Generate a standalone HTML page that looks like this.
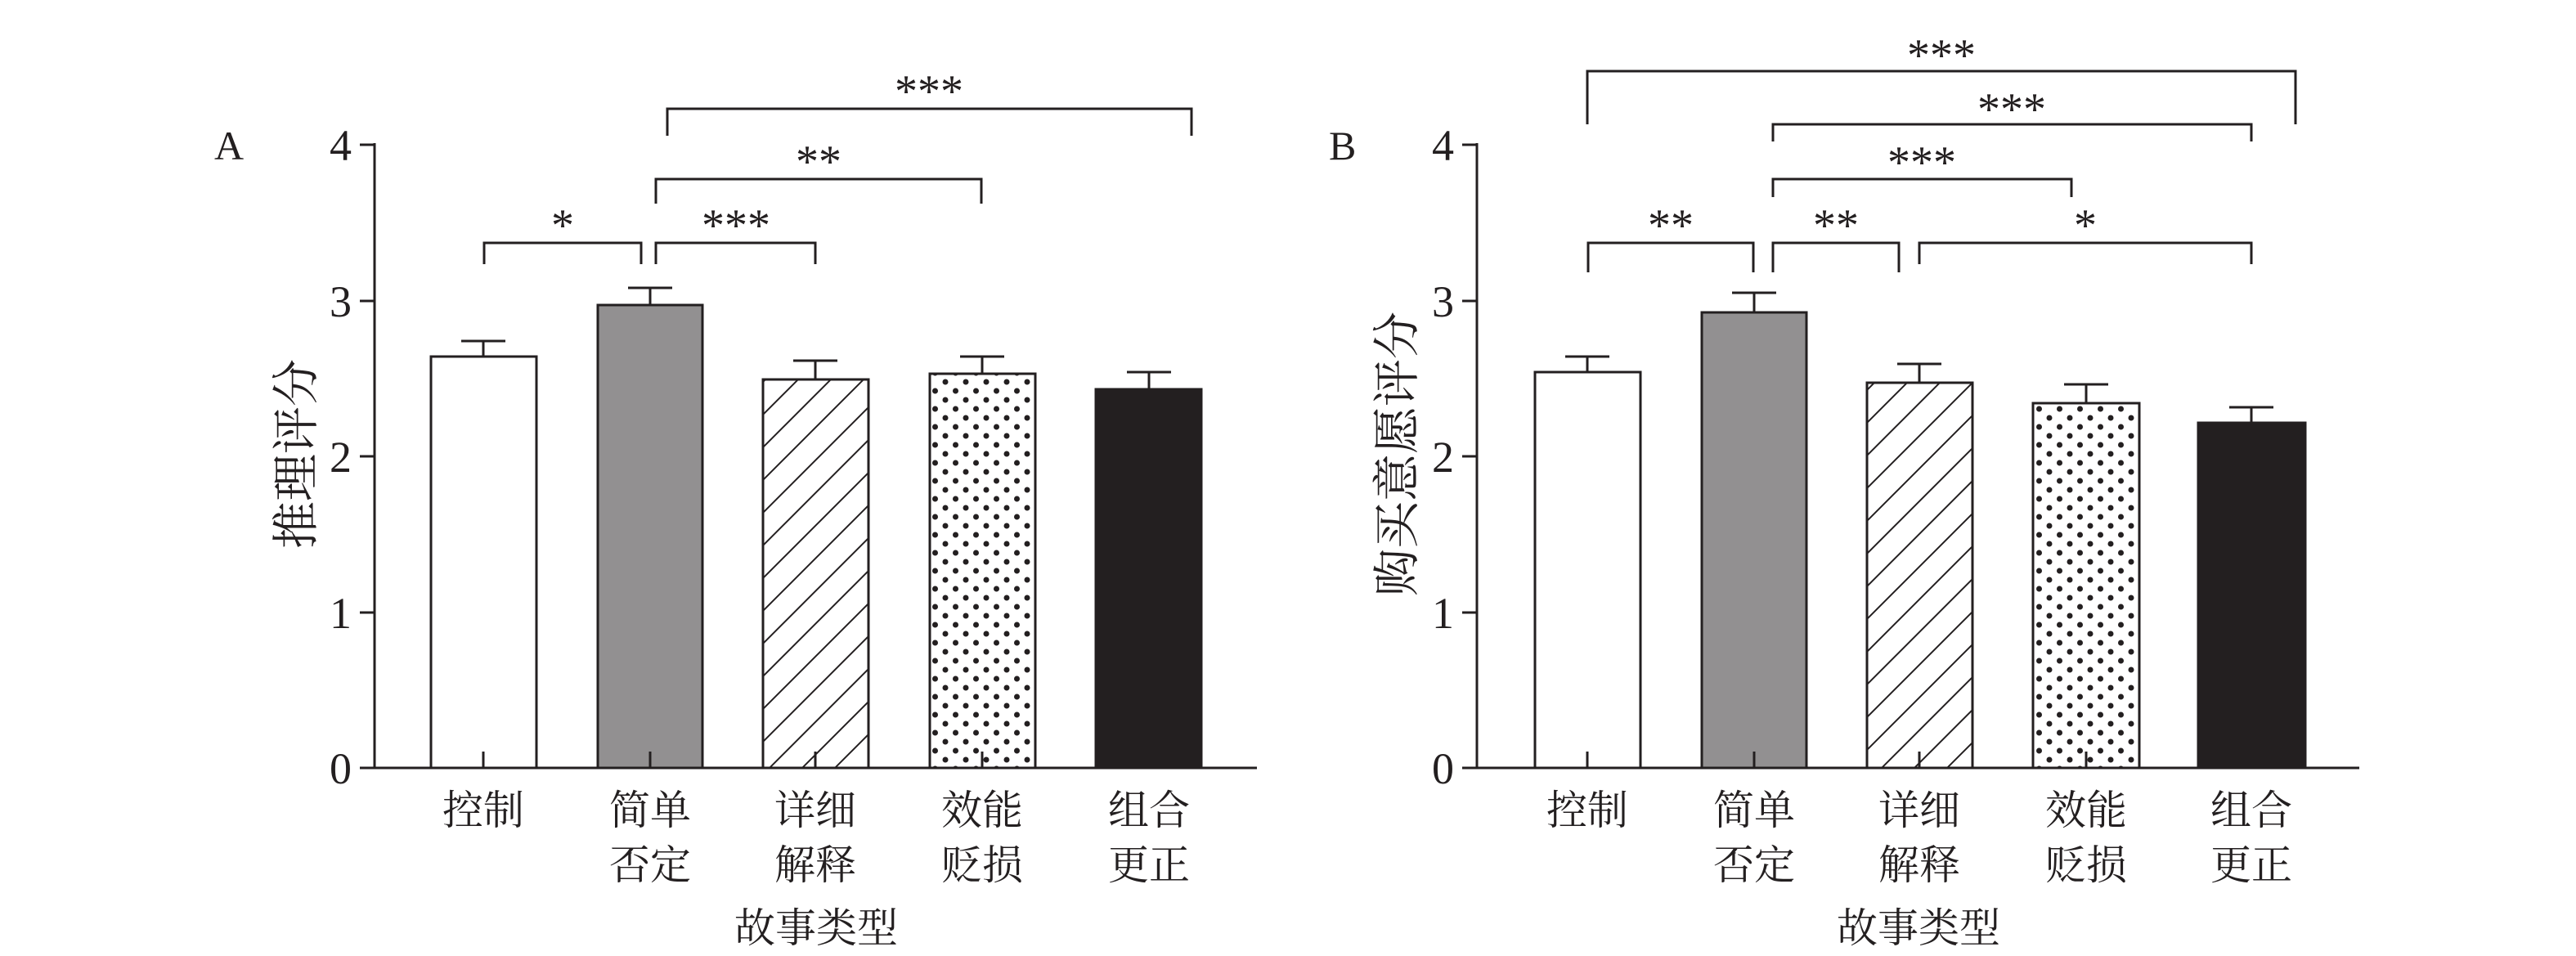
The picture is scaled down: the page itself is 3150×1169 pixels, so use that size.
<!DOCTYPE html>
<html><head><meta charset="utf-8"><style>
html,body{margin:0;padding:0;background:#fff}
svg{display:block}
text{font-family:"Liberation Serif","Noto Serif CJK SC",serif;fill:#231f20}
.c{font-family:"Liberation Serif","Noto Serif CJK SC","Noto Sans CJK SC",serif}
</style></head><body>
<svg width="3150" height="1169" viewBox="0 0 3150 1169" xmlns="http://www.w3.org/2000/svg">
<defs>
<pattern id="hatch" patternUnits="userSpaceOnUse" width="40" height="40">
<path d="M-10,50 L50,-10 M-10,10 L10,-10 M30,50 L50,30" stroke="#231f20" stroke-width="2" fill="none"/>
</pattern>
<pattern id="dots" patternUnits="userSpaceOnUse" width="25" height="22">
<circle cx="6" cy="5" r="3.5" fill="#231f20"/>
<circle cx="18.5" cy="16" r="3.5" fill="#231f20"/>
</pattern>
</defs>
<g stroke="#231f20" stroke-width="3" fill="none">
<line x1="458" y1="175" x2="458" y2="940"/>
<line x1="457" y1="939" x2="1537" y2="939"/>
<line x1="440" y1="177" x2="458" y2="177"/>
<line x1="440" y1="368" x2="458" y2="368"/>
<line x1="440" y1="558" x2="458" y2="558"/>
<line x1="440" y1="749" x2="458" y2="749"/>
<line x1="440" y1="939" x2="458" y2="939"/>
<line x1="1806" y1="175" x2="1806" y2="940"/>
<line x1="1805" y1="939" x2="2885" y2="939"/>
<line x1="1788" y1="177" x2="1806" y2="177"/>
<line x1="1788" y1="368" x2="1806" y2="368"/>
<line x1="1788" y1="558" x2="1806" y2="558"/>
<line x1="1788" y1="749" x2="1806" y2="749"/>
<line x1="1788" y1="939" x2="1806" y2="939"/>
</g>
<g stroke="#231f20" stroke-width="3">
<rect x="527" y="436" width="129" height="503" fill="#fff"/>
<rect x="731" y="373" width="128" height="566" fill="#929091"/>
<rect x="933" y="464" width="129" height="475" fill="url(#hatch)"/>
<rect x="1137" y="457" width="129" height="482" fill="url(#dots)"/>
<rect x="1340" y="476" width="129" height="463" fill="#231f20"/>
<rect x="1877" y="455" width="129" height="484" fill="#fff"/>
<rect x="2081" y="382" width="128" height="557" fill="#929091"/>
<rect x="2283" y="468" width="129" height="471" fill="url(#hatch)"/>
<rect x="2486" y="493" width="130" height="446" fill="url(#dots)"/>
<rect x="2688" y="517" width="131" height="422" fill="#231f20"/>
</g>
<g stroke="#231f20" stroke-width="3" fill="none">
<path d="M591,436 V417 M564,417 H618"/>
<path d="M795,373 V352 M768,352 H822"/>
<path d="M997,464 V441 M970,441 H1024"/>
<path d="M1201,457 V436 M1174,436 H1228"/>
<path d="M1405,476 V455 M1378,455 H1432"/>
<path d="M1941,455 V436 M1914,436 H1968"/>
<path d="M2145,382 V358 M2118,358 H2172"/>
<path d="M2347,468 V445 M2320,445 H2374"/>
<path d="M2551,493 V470 M2524,470 H2578"/>
<path d="M2753,517 V498 M2726,498 H2780"/>
<path d="M591,939 V919 M795,939 V919 M997,939 V919 M1201,939 V919 M1405,939 V919"/>
<path d="M1941,939 V919 M2145,939 V919 M2347,939 V919 M2551,939 V919" />
<path d="M592,323 V297 H784 V323"/>
<path d="M802,323 V297 H997 V323"/>
<path d="M802,249 V219 H1200 V249"/>
<path d="M816,166 V133 H1457 V166"/>
<path d="M1942,333 V297 H2144 V333"/>
<path d="M2168,333 V297 H2322 V333"/>
<path d="M2347,323 V297 H2753 V323"/>
<path d="M2168,241 V219 H2533 V241"/>
<path d="M2168,173 V152 H2753 V173"/>
<path d="M1941,152 V87 H2807 V152"/>
</g>
<g font-size="56" text-anchor="middle">
<text x="688" y="294">*</text>
<text x="900" y="294">***</text>
<text x="1001" y="216">**</text>
<text x="1136" y="130">***</text>
<text x="2043" y="294">**</text>
<text x="2245" y="294">**</text>
<text x="2550" y="294">*</text>
<text x="2350" y="217">***</text>
<text x="2460" y="152">***</text>
<text x="2374" y="86">***</text>
</g>
<g font-size="54" text-anchor="end">
<text x="430" y="196">4</text><text x="430" y="387">3</text><text x="430" y="577">2</text><text x="430" y="768">1</text><text x="430" y="958">0</text>
<text x="1778" y="196">4</text><text x="1778" y="387">3</text><text x="1778" y="577">2</text><text x="1778" y="768">1</text><text x="1778" y="958">0</text>
</g>
<text x="262" y="195" font-size="50">A</text>
<text x="1625" y="195" font-size="50">B</text>
<g class="c" font-size="50" text-anchor="middle">
<text x="591" y="1008">控制</text>
<text x="795" y="1008">简单</text><text x="795" y="1075">否定</text>
<text x="997" y="1008">详细</text><text x="997" y="1075">解释</text>
<text x="1201" y="1008">效能</text><text x="1201" y="1075">贬损</text>
<text x="1405" y="1008">组合</text><text x="1405" y="1075">更正</text>
<text x="1941" y="1008">控制</text>
<text x="2145" y="1008">简单</text><text x="2145" y="1075">否定</text>
<text x="2347" y="1008">详细</text><text x="2347" y="1075">解释</text>
<text x="2551" y="1008">效能</text><text x="2551" y="1075">贬损</text>
<text x="2753" y="1008">组合</text><text x="2753" y="1075">更正</text>
<text x="998" y="1152">故事类型</text>
<text x="2346" y="1152">故事类型</text>
</g>
<g class="c" font-size="58" text-anchor="middle">
<text transform="translate(382,555) rotate(-90)">推理评分</text>
<text transform="translate(1728,555) rotate(-90)">购买意愿评分</text>
</g>
</svg>
</body></html>
